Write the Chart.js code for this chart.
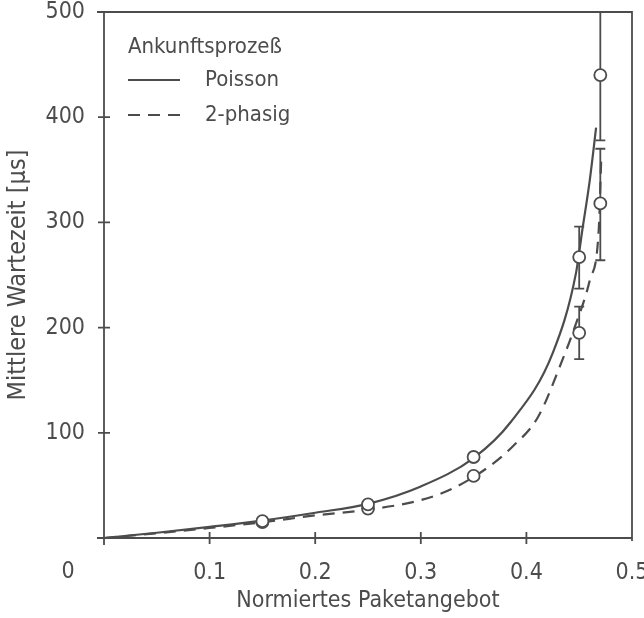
<!DOCTYPE html>
<html>
<head>
<meta charset="utf-8">
<script src="https://cdn.jsdelivr.net/npm/chart.js@4.4.1/dist/chart.umd.min.js"></script>
<style>
  html, body { margin: 0; padding: 0; background: #fff; }
  #wrap { width: 644px; height: 618px; }
</style>
</head>
<body>
<div id="wrap"><canvas id="chart" width="644" height="618"></canvas></div>
<script>
// Theory curves.
const poissonX = [0, 0.05, 0.1, 0.15, 0.2, 0.25, 0.3, 0.35, 0.385, 0.425, 0.447, 0.453, 0.46, 0.466];
const poissonY = [0, 5, 10.5, 16.5, 24, 32.5, 49, 76, 110, 176, 252, 293, 340, 390];
const phase2X = [0, 0.05, 0.1, 0.15, 0.2, 0.25, 0.3, 0.33, 0.362, 0.387, 0.411, 0.434, 0.4456, 0.46, 0.4685, 0.471];
const phase2Y = [0, 4.5, 9.5, 15, 21.5, 27, 36, 47, 66, 87, 115, 169, 200, 245, 293, 365];

// Simulation points with confidence intervals (null = no bar drawn).
const simX = [0.15, 0.25, 0.35, 0.45, 0.47];
const simPoissonY = [16, 32, 77, 267, 440];
const simPoissonLow = [null, null, null, 237, 378];
const simPoissonHigh = [null, null, null, 296, 500];
const simPhase2Y = [15, 28, 59, 195, 318];
const simPhase2Low = [null, null, null, 170, 264];
const simPhase2High = [null, null, null, 220, 370];

const xTicks = [0.1, 0.2, 0.3, 0.4, 0.5];
const yTicks = [100, 200, 300, 400, 500];

const ink = '#4c4c4c';
const fontFamily = "'Liberation Sans Narrow', 'DejaVu Sans Condensed', 'DejaVu Sans', sans-serif";

function toPoints(xs, ys) {
  return xs.map((x, i) => ({ x: x, y: ys[i] }));
}

// Draws the frame, tick marks that cross the axes and the corner "0".
const framePlugin = {
  id: 'frame',
  afterDraw(chart) {
    const ctx = chart.ctx;
    const a = chart.chartArea;
    const xs = chart.scales.x;
    const ys = chart.scales.y;
    ctx.save();
    ctx.strokeStyle = ink;
    ctx.lineWidth = 1.8;
    ctx.beginPath();
    ctx.moveTo(a.left - 7, a.top);
    ctx.lineTo(a.right, a.top);
    ctx.lineTo(a.right, a.bottom + 3);
    ctx.moveTo(a.left, a.top);
    ctx.lineTo(a.left, a.bottom + 7);
    ctx.moveTo(a.left - 7, a.bottom);
    ctx.lineTo(a.right, a.bottom);
    xTicks.slice(0, -1).forEach((v) => {
      const px = xs.getPixelForValue(v);
      ctx.moveTo(px, a.bottom - 6);
      ctx.lineTo(px, a.bottom + 6);
    });
    yTicks.slice(0, -1).forEach((v) => {
      const py = ys.getPixelForValue(v);
      ctx.moveTo(a.left - 6, py);
      ctx.lineTo(a.left + 6, py);
    });
    ctx.stroke();
    ctx.fillStyle = ink;
    ctx.font = '23px ' + fontFamily;
    ctx.textAlign = 'center';
    ctx.textBaseline = 'middle';
    ctx.fillText('0', a.left - 36, xs.bottom - 46);
    ctx.restore();
  }
};

// Confidence interval bars, drawn below the hollow circles.
const errorBarPlugin = {
  id: 'errorBars',
  beforeDatasetsDraw(chart) {
    const ctx = chart.ctx;
    const xs = chart.scales.x;
    const ys = chart.scales.y;
    const bars = [[simPoissonLow, simPoissonHigh], [simPhase2Low, simPhase2High]];
    ctx.save();
    ctx.strokeStyle = ink;
    ctx.lineWidth = 1.8;
    ctx.beginPath();
    bars.forEach(([low, high]) => {
      simX.forEach((x, i) => {
        if (low[i] === null) return;
        const px = xs.getPixelForValue(x);
        const p1 = ys.getPixelForValue(low[i]);
        const p2 = ys.getPixelForValue(high[i]);
        ctx.moveTo(px, p1);
        ctx.lineTo(px, p2);
        ctx.moveTo(px - 5, p1);
        ctx.lineTo(px + 5, p1);
        ctx.moveTo(px - 5, p2);
        ctx.lineTo(px + 5, p2);
      });
    });
    ctx.stroke();
    ctx.restore();
  }
};

// Legend written inside the plot, upper left.
const legendPlugin = {
  id: 'innerLegend',
  afterDraw(chart) {
    const ctx = chart.ctx;
    const a = chart.chartArea;
    const left = a.left + 24;
    ctx.save();
    ctx.fillStyle = ink;
    ctx.strokeStyle = ink;
    ctx.font = '22px ' + fontFamily;
    ctx.textAlign = 'left';
    ctx.textBaseline = 'middle';
    ctx.fillText('Ankunftsprozeß', left, a.top + 35);
    [chart.data.datasets[2], chart.data.datasets[3]].forEach((ds, i) => {
      const y = a.top + 68 + i * 35;
      ctx.lineWidth = 2;
      ctx.setLineDash(ds.borderDash || []);
      ctx.beginPath();
      ctx.moveTo(left, y);
      ctx.lineTo(left + 52, y);
      ctx.stroke();
      ctx.setLineDash([]);
      ctx.fillText(ds.label, left + 77, y);
    });
    ctx.restore();
  }
};

const tickFont = { family: fontFamily, size: 23 };

new Chart(document.getElementById('chart'), {
  type: 'scatter',
  data: {
    datasets: [
      {
        label: 'Simulation Poisson',
        data: toPoints(simX, simPoissonY),
        pointStyle: 'circle',
        pointRadius: 6,
        pointBackgroundColor: '#fff',
        pointBorderColor: ink,
        pointBorderWidth: 1.8,
        showLine: false
      },
      {
        label: 'Simulation 2-phasig',
        data: toPoints(simX, simPhase2Y),
        pointStyle: 'circle',
        pointRadius: 6,
        pointBackgroundColor: '#fff',
        pointBorderColor: ink,
        pointBorderWidth: 1.8,
        showLine: false
      },
      {
        label: 'Poisson',
        data: toPoints(poissonX, poissonY),
        showLine: true,
        borderColor: ink,
        borderWidth: 2.2,
        pointRadius: 0,
        cubicInterpolationMode: 'monotone'
      },
      {
        label: '2-phasig',
        data: toPoints(phase2X, phase2Y),
        showLine: true,
        borderColor: ink,
        borderWidth: 2.2,
        borderDash: [12, 8],
        pointRadius: 0,
        cubicInterpolationMode: 'monotone'
      }
    ]
  },
  options: {
    responsive: false,
    animation: false,
    layout: {
      padding: { top: 12, right: 12, left: 0, bottom: 0 }
    },
    plugins: {
      legend: { display: false },
      tooltip: { enabled: false }
    },
    scales: {
      x: {
        type: 'linear',
        min: 0,
        max: 0.5,
        grid: { display: false, drawTicks: false },
        border: { display: false },
        ticks: {
          stepSize: 0.1,
          color: ink,
          font: tickFont,
          padding: 21,
          maxRotation: 0,
          callback: function (value) {
            return value === 0 ? '' : value.toFixed(1);
          }
        },
        title: {
          display: true,
          text: 'Normiertes Paketangebot',
          color: ink,
          font: { family: fontFamily, size: 23 },
          padding: { top: 0, bottom: 3 }
        },
        afterFit: function (scale) {
          scale.height = 80;
          scale.paddingLeft = 0;
          scale.paddingRight = 0;
        }
      },
      y: {
        min: 0,
        max: 500,
        grid: { display: false, drawTicks: false },
        border: { display: false },
        ticks: {
          stepSize: 100,
          color: ink,
          font: tickFont,
          padding: 19,
          callback: function (value) {
            return value === 0 ? '' : value;
          }
        },
        title: {
          display: true,
          text: 'Mittlere Wartezeit [µs]',
          color: ink,
          font: { family: fontFamily, size: 25 },
          padding: { top: 3, bottom: 0 }
        },
        afterFit: function (scale) {
          scale.width = 104;
          scale.paddingTop = 0;
          scale.paddingBottom = 0;
        }
      }
    }
  },
  plugins: [errorBarPlugin, framePlugin, legendPlugin]
});
</script>
</body>
</html>
